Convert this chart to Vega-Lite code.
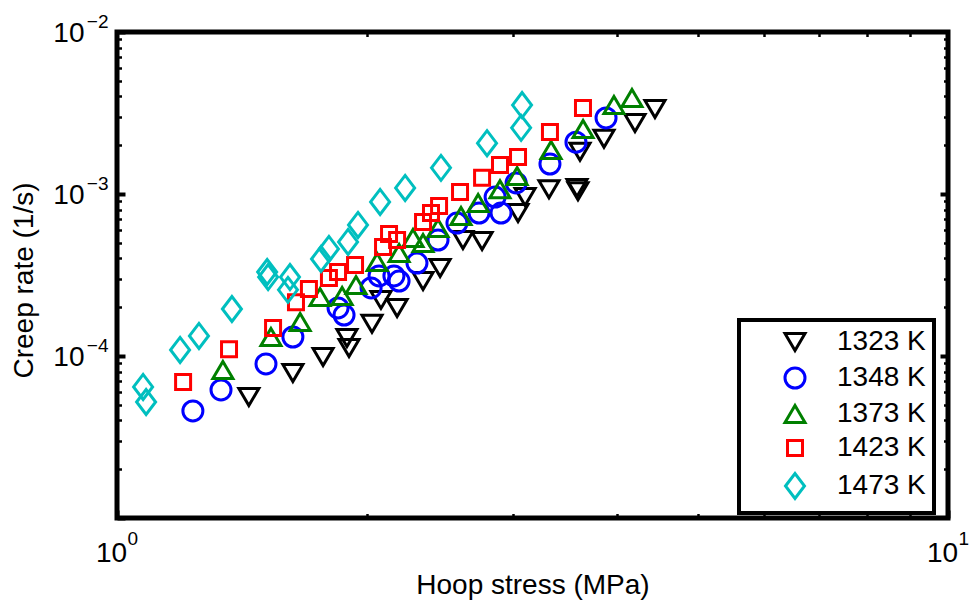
{
  "$schema": "https://vega.github.io/schema/vega-lite/v6.json",
  "width": 831,
  "height": 486,
  "autosize": {"type": "none"},
  "padding": {"left": 117, "top": 32, "right": 22, "bottom": 83},
  "background": "white",
  "config": {
    "view": {"stroke": "black", "strokeWidth": 5},
    "font": "Liberation Sans",
    "axis": {
      "grid": false,
      "domain": false,
      "tickColor": "black",
      "tickWidth": 2.5,
      "tickSize": -4.5,
      "labelFont": "Liberation Sans",
      "labelFontSize": 28,
      "labelColor": "black",
      "labelOverlap": false,
      "labelFlush": false,
      "titleFont": "Liberation Sans",
      "titleFontSize": 28,
      "titleFontWeight": "normal",
      "titleColor": "black"
    },
    "legend": {
      "labelFont": "Liberation Sans",
      "labelFontSize": 28,
      "labelColor": "black",
      "symbolSize": 400,
      "symbolStrokeWidth": 3,
      "strokeWidth": 4
    }
  },
  "datasets": {
    "creep": [
      {"stress": 1.441, "rate": 5.58e-5, "temp": "1323 K"},
      {"stress": 1.628, "rate": 7.85e-5, "temp": "1323 K"},
      {"stress": 1.770, "rate": 9.86e-5, "temp": "1323 K"},
      {"stress": 1.891, "rate": 1.29e-4, "temp": "1323 K"},
      {"stress": 1.902, "rate": 1.12e-4, "temp": "1323 K"},
      {"stress": 2.027, "rate": 1.58e-4, "temp": "1323 K"},
      {"stress": 2.078, "rate": 2.22e-4, "temp": "1323 K"},
      {"stress": 2.173, "rate": 1.98e-4, "temp": "1323 K"},
      {"stress": 2.335, "rate": 2.90e-4, "temp": "1323 K"},
      {"stress": 2.448, "rate": 3.49e-4, "temp": "1323 K"},
      {"stress": 2.608, "rate": 5.20e-4, "temp": "1323 K"},
      {"stress": 2.750, "rate": 5.13e-4, "temp": "1323 K"},
      {"stress": 3.038, "rate": 7.63e-4, "temp": "1323 K"},
      {"stress": 3.098, "rate": 9.58e-4, "temp": "1323 K"},
      {"stress": 3.310, "rate": 1.07e-3, "temp": "1323 K"},
      {"stress": 3.577, "rate": 1.09e-3, "temp": "1323 K"},
      {"stress": 3.587, "rate": 1.04e-3, "temp": "1323 K"},
      {"stress": 3.607, "rate": 1.82e-3, "temp": "1323 K"},
      {"stress": 3.855, "rate": 2.19e-3, "temp": "1323 K"},
      {"stress": 4.201, "rate": 2.74e-3, "temp": "1323 K"},
      {"stress": 4.440, "rate": 3.35e-3, "temp": "1323 K"},

      {"stress": 1.234, "rate": 4.58e-5, "temp": "1348 K"},
      {"stress": 1.334, "rate": 6.17e-5, "temp": "1348 K"},
      {"stress": 1.511, "rate": 8.93e-5, "temp": "1348 K"},
      {"stress": 1.628, "rate": 1.31e-4, "temp": "1348 K"},
      {"stress": 1.845, "rate": 1.98e-4, "temp": "1348 K"},
      {"stress": 1.876, "rate": 1.79e-4, "temp": "1348 K"},
      {"stress": 2.022, "rate": 2.63e-4, "temp": "1348 K"},
      {"stress": 2.067, "rate": 3.12e-4, "temp": "1348 K"},
      {"stress": 2.154, "rate": 3.12e-4, "temp": "1348 K"},
      {"stress": 2.185, "rate": 2.90e-4, "temp": "1348 K"},
      {"stress": 2.296, "rate": 3.75e-4, "temp": "1348 K"},
      {"stress": 2.434, "rate": 5.20e-4, "temp": "1348 K"},
      {"stress": 2.565, "rate": 6.62e-4, "temp": "1348 K"},
      {"stress": 2.727, "rate": 7.63e-4, "temp": "1348 K"},
      {"stress": 2.898, "rate": 7.63e-4, "temp": "1348 K"},
      {"stress": 2.851, "rate": 9.58e-4, "temp": "1348 K"},
      {"stress": 3.022, "rate": 1.17e-3, "temp": "1348 K"},
      {"stress": 3.319, "rate": 1.53e-3, "temp": "1348 K"},
      {"stress": 3.567, "rate": 2.09e-3, "temp": "1348 K"},
      {"stress": 3.877, "rate": 2.95e-3, "temp": "1348 K"},

      {"stress": 1.341, "rate": 8.20e-5, "temp": "1373 K"},
      {"stress": 1.532, "rate": 1.31e-4, "temp": "1373 K"},
      {"stress": 1.661, "rate": 1.62e-4, "temp": "1373 K"},
      {"stress": 1.755, "rate": 2.31e-4, "temp": "1373 K"},
      {"stress": 1.866, "rate": 2.35e-4, "temp": "1373 K"},
      {"stress": 1.939, "rate": 2.74e-4, "temp": "1373 K"},
      {"stress": 2.056, "rate": 3.80e-4, "temp": "1373 K"},
      {"stress": 2.185, "rate": 4.32e-4, "temp": "1373 K"},
      {"stress": 2.271, "rate": 5.35e-4, "temp": "1373 K"},
      {"stress": 2.335, "rate": 4.98e-4, "temp": "1373 K"},
      {"stress": 2.434, "rate": 6.17e-4, "temp": "1373 K"},
      {"stress": 2.594, "rate": 7.32e-4, "temp": "1373 K"},
      {"stress": 2.720, "rate": 8.80e-4, "temp": "1373 K"},
      {"stress": 2.890, "rate": 1.07e-3, "temp": "1373 K"},
      {"stress": 3.030, "rate": 1.29e-3, "temp": "1373 K"},
      {"stress": 3.329, "rate": 1.87e-3, "temp": "1373 K"},
      {"stress": 3.638, "rate": 2.52e-3, "temp": "1373 K"},
      {"stress": 3.963, "rate": 3.54e-3, "temp": "1373 K"},
      {"stress": 4.166, "rate": 3.91e-3, "temp": "1373 K"},

      {"stress": 1.201, "rate": 6.91e-5, "temp": "1423 K"},
      {"stress": 1.364, "rate": 1.10e-4, "temp": "1423 K"},
      {"stress": 1.541, "rate": 1.49e-4, "temp": "1423 K"},
      {"stress": 1.642, "rate": 2.15e-4, "temp": "1423 K"},
      {"stress": 1.702, "rate": 2.59e-4, "temp": "1423 K"},
      {"stress": 1.799, "rate": 3.03e-4, "temp": "1423 K"},
      {"stress": 1.845, "rate": 3.30e-4, "temp": "1423 K"},
      {"stress": 1.934, "rate": 3.65e-4, "temp": "1423 K"},
      {"stress": 2.090, "rate": 4.71e-4, "temp": "1423 K"},
      {"stress": 2.125, "rate": 5.66e-4, "temp": "1423 K"},
      {"stress": 2.173, "rate": 5.20e-4, "temp": "1423 K"},
      {"stress": 2.335, "rate": 6.72e-4, "temp": "1423 K"},
      {"stress": 2.387, "rate": 7.63e-4, "temp": "1423 K"},
      {"stress": 2.441, "rate": 8.43e-4, "temp": "1423 K"},
      {"stress": 2.587, "rate": 1.03e-3, "temp": "1423 K"},
      {"stress": 2.750, "rate": 1.26e-3, "temp": "1423 K"},
      {"stress": 2.890, "rate": 1.51e-3, "temp": "1423 K"},
      {"stress": 3.038, "rate": 1.69e-3, "temp": "1423 K"},
      {"stress": 3.319, "rate": 2.41e-3, "temp": "1423 K"},
      {"stress": 3.637, "rate": 3.40e-3, "temp": "1423 K"},

      {"stress": 1.075, "rate": 6.44e-5, "temp": "1473 K"},
      {"stress": 1.084, "rate": 5.20e-5, "temp": "1473 K"},
      {"stress": 1.191, "rate": 1.09e-4, "temp": "1473 K"},
      {"stress": 1.255, "rate": 1.33e-4, "temp": "1473 K"},
      {"stress": 1.375, "rate": 1.95e-4, "temp": "1473 K"},
      {"stress": 1.516, "rate": 3.30e-4, "temp": "1473 K"},
      {"stress": 1.520, "rate": 3.07e-4, "temp": "1473 K"},
      {"stress": 1.615, "rate": 3.07e-4, "temp": "1473 K"},
      {"stress": 1.606, "rate": 2.56e-4, "temp": "1473 K"},
      {"stress": 1.760, "rate": 3.97e-4, "temp": "1473 K"},
      {"stress": 1.799, "rate": 4.58e-4, "temp": "1473 K"},
      {"stress": 1.897, "rate": 5.06e-4, "temp": "1473 K"},
      {"stress": 1.950, "rate": 6.44e-4, "temp": "1473 K"},
      {"stress": 2.073, "rate": 8.93e-4, "temp": "1473 K"},
      {"stress": 2.222, "rate": 1.09e-3, "temp": "1473 K"},
      {"stress": 2.454, "rate": 1.45e-3, "temp": "1473 K"},
      {"stress": 2.788, "rate": 2.06e-3, "temp": "1473 K"},
      {"stress": 3.064, "rate": 2.56e-3, "temp": "1473 K"},
      {"stress": 3.072, "rate": 3.54e-3, "temp": "1473 K"}
    ],
    "none": []
  },
  "layer": [
    {
      "data": {"name": "creep"},
      "mark": {"type": "point", "filled": false, "strokeWidth": 3, "opacity": 1, "size": 400},
      "encoding": {
        "x": {
          "field": "stress",
          "type": "quantitative",
          "scale": {"type": "log", "domain": [1, 10], "nice": false},
          "axis": {
            "orient": "bottom",
            "title": "Hoop stress (MPa)",
            "values": [1, 2, 3, 4, 5, 6, 7, 8, 9, 10],
            "labelExpr": "datum.value == 1 || datum.value == 10 ? '10' : ''",
            "labelPadding": 25.5,
            "labelOffset": -6,
            "labelAlign": "center",
            "labelBaseline": "top",
            "titleX": 415.5,
            "titleY": 75,
            "titleAlign": "center",
            "titleBaseline": "alphabetic"
          }
        },
        "y": {
          "field": "rate",
          "type": "quantitative",
          "scale": {"type": "log", "domain": [0.00001, 0.01], "nice": false},
          "axis": {
            "orient": "left",
            "title": "Creep rate (1/s)",
            "values": [0.00001, 0.00002, 0.00003, 0.00004, 0.00005, 0.00006, 0.00007, 0.00008, 0.00009,
                       0.0001, 0.0002, 0.0003, 0.0004, 0.0005, 0.0006, 0.0007, 0.0008, 0.0009,
                       0.001, 0.002, 0.003, 0.004, 0.005, 0.006, 0.007, 0.008, 0.009, 0.01],
            "labelExpr": "datum.value == 0.01 || datum.value == 0.001 || datum.value == 0.0001 ? '10' : ''",
            "labelPadding": 37.5,
            "labelOffset": 1,
            "labelAlign": "right",
            "labelBaseline": "middle",
            "titleX": -85,
            "titleY": 248,
            "titleAngle": -90,
            "titleAlign": "center",
            "titleBaseline": "alphabetic"
          }
        },
        "color": {
          "field": "temp",
          "type": "nominal",
          "scale": {
            "domain": ["1323 K", "1348 K", "1373 K", "1423 K", "1473 K"],
            "range": ["#000000", "#0000ff", "#008000", "#ff0000", "#00bfbf"]
          },
          "legend": {
            "title": null,
            "orient": "none",
            "legendX": 622,
            "legendY": 288,
            "padding": 8,
            "strokeColor": "black",
            "fillColor": "white",
            "symbolOffset": 34,
            "labelOffset": 28,
            "rowPadding": 5
          }
        },
        "shape": {
          "field": "temp",
          "type": "nominal",
          "scale": {
            "domain": ["1323 K", "1348 K", "1373 K", "1423 K", "1473 K"],
            "range": [
              "M-1,-0.85L1,-0.85L0,0.85Z",
              "circle",
              "M0,-0.85L1,0.85L-1,0.85Z",
              "M-0.75,-0.75L0.75,-0.75L0.75,0.75L-0.75,0.75Z",
              "M-0.95,0L0,-1.25L0.95,0L0,1.25Z"
            ]
          }
        }
      }
    },
    {
      "data": {"name": "none"},
      "mark": {"type": "point", "opacity": 0},
      "encoding": {
        "x": {
          "field": "stress",
          "type": "quantitative",
          "axis": {
            "orient": "bottom",
            "title": null,
            "values": [1, 10],
            "tickSize": -8,
            "tickWidth": 4,
            "labelExpr": "datum.value == 1 ? '0' : '1'",
            "labelFontSize": 19,
            "labelPadding": 19,
            "labelOffset": 10,
            "labelAlign": "left",
            "labelBaseline": "top"
          }
        },
        "y": {
          "field": "rate",
          "type": "quantitative",
          "axis": {
            "orient": "left",
            "title": null,
            "values": [0.00001, 0.0001, 0.001, 0.01],
            "tickSize": -8,
            "tickWidth": 4,
            "labelExpr": "datum.value == 0.01 ? '−2' : datum.value == 0.001 ? '−3' : datum.value == 0.0001 ? '−4' : ''",
            "labelFontSize": 19,
            "labelPadding": 17,
            "labelOffset": -11,
            "labelAlign": "right",
            "labelBaseline": "middle"
          }
        }
      }
    },
    {
      "data": {"name": "none"},
      "mark": {"type": "point", "opacity": 0},
      "encoding": {
        "x": {
          "field": "stress",
          "type": "quantitative",
          "axis": {
            "orient": "top",
            "title": null,
            "labels": false,
            "values": [1, 2, 3, 4, 5, 6, 7, 8, 9, 10]
          }
        },
        "y": {
          "field": "rate",
          "type": "quantitative",
          "axis": {
            "orient": "right",
            "title": null,
            "labels": false,
            "values": [0.00001, 0.00002, 0.00003, 0.00004, 0.00005, 0.00006, 0.00007, 0.00008, 0.00009,
                       0.0001, 0.0002, 0.0003, 0.0004, 0.0005, 0.0006, 0.0007, 0.0008, 0.0009,
                       0.001, 0.002, 0.003, 0.004, 0.005, 0.006, 0.007, 0.008, 0.009, 0.01]
          }
        }
      }
    },
    {
      "data": {"name": "none"},
      "mark": {"type": "point", "opacity": 0},
      "encoding": {
        "x": {
          "field": "stress",
          "type": "quantitative",
          "axis": null
        },
        "y": {
          "field": "rate",
          "type": "quantitative",
          "axis": {
            "orient": "right",
            "title": null,
            "labels": false,
            "values": [0.0001, 0.001],
            "tickSize": -8,
            "tickWidth": 4
          }
        }
      }
    }
  ],
  "resolve": {"axis": {"x": "independent", "y": "independent"}}
}
